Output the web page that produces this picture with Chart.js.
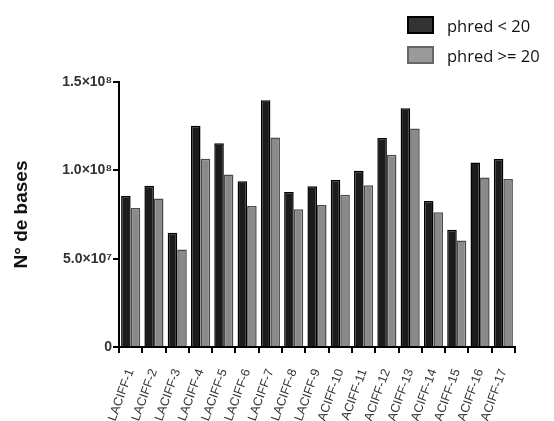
<!DOCTYPE html>
<html>
<head>
<meta charset="utf-8">
<script src="https://cdn.jsdelivr.net/npm/chart.js@4/dist/chart.umd.min.js"></script>
<style>
  html, body { margin: 0; padding: 0; background: #fff; }
  #wrap { position: relative; width: 554px; height: 421px; overflow: hidden; }
  #legend { position: absolute; left: 407px; top: 10px; font-family: 'Open Sans', sans-serif; font-size: 16.5px; color: #111; }
  .item { display: flex; align-items: center; height: 30px; }
  .box { width: 23px; height: 14px; margin-right: 13px; box-sizing: content-box; }
</style>
</head>
<body>
<div id="wrap">
  <canvas id="chart" width="554" height="421"></canvas>
  <div id="legend"></div>
</div>
<script>
const categories = ['LACIFF-1', 'LACIFF-2', 'LACIFF-3', 'LACIFF-4', 'LACIFF-5', 'LACIFF-6', 'LACIFF-7', 'LACIFF-8', 'LACIFF-9',
    'LACIFF-10', 'LACIFF-11', 'LACIFF-12', 'LACIFF-13', 'LACIFF-14', 'LACIFF-15', 'LACIFF-16', 'LACIFF-17'];
const seriesNames = ['phred < 20', 'phred >= 20'];
const lowQuality = [85.5e6, 91.3e6, 64.6e6, 125.2e6, 115.4e6, 93.8e6, 139.7e6, 87.7e6, 91.0e6,
    94.5e6, 99.8e6, 118.3e6, 135.2e6, 82.7e6, 66.3e6, 104.5e6, 106.4e6];
const highQuality = [78.7e6, 84.0e6, 55.2e6, 106.6e6, 97.6e6, 79.8e6, 118.6e6, 78.0e6, 80.4e6,
    86.2e6, 91.5e6, 108.8e6, 123.7e6, 76.3e6, 60.3e6, 96.0e6, 95.1e6];
const yTickLabels = ['0', '5.0×10⁷', '1.0×10⁸', '1.5×10⁸'];

const fills = ['#1c1c1c', '#8a8a8a'];
const borders = ['#000000', '#4a4a4a'];

// legend as html, built from the series names
const legendEl = document.getElementById('legend');
seriesNames.forEach((name, i) => {
    const item = document.createElement('div');
    item.className = 'item';
    const box = document.createElement('span');
    box.className = 'box';
    box.style.background = i === 0 ? '#333' : '#9a9a9a';
    box.style.border = '2px solid ' + (i === 0 ? '#000' : '#666');
    item.appendChild(box);
    item.appendChild(document.createTextNode(name));
    legendEl.appendChild(item);
});

new Chart(document.getElementById('chart'), {
    type: 'bar',
    data: {
        labels: categories,
        datasets: [lowQuality, highQuality].map((d, i) => ({
            label: seriesNames[i],
            data: d,
            backgroundColor: fills[i],
            borderColor: borders[i],
            borderWidth: 1.5,
            barPercentage: 1.0,
            categoryPercentage: 0.82,
        })),
    },
    options: {
        responsive: false,
        animation: false,
        layout: { padding: { left: 0, top: 82, right: 39, bottom: 0 } },
        plugins: { legend: { display: false }, tooltip: { enabled: false } },
        scales: {
            x: {
                afterFit: (s) => { s.height = 74; },
                border: { color: '#000', width: 2 },
                grid: { drawOnChartArea: false, drawTicks: true, tickLength: 6, color: '#000', lineWidth: 2 },
                ticks: {
                    color: '#333',
                    font: { family: 'Liberation Sans', size: 12.5 },
                    minRotation: 70,
                    maxRotation: 70,
                    autoSkip: false,
                    padding: 14,
                },
            },
            y: {
                min: 0,
                max: 1.5e8,
                afterFit: (s) => { s.width = 119; },
                border: { color: '#000', width: 2 },
                grid: { drawOnChartArea: false, drawTicks: true, tickLength: 6, color: '#000', lineWidth: 2 },
                ticks: {
                    stepSize: 5e7,
                    color: '#333',
                    font: { family: 'Liberation Sans', size: 14, weight: 'bold' },
                    padding: 1,
                    callback: (v) => yTickLabels[Math.round(v / 5e7)],
                },
                title: {
                    display: true,
                    text: 'N° de bases',
                    color: '#111',
                    font: { family: 'Liberation Sans', size: 19, weight: 'bold' },
                    padding: { top: 10, bottom: 0 },
                },
            },
        },
    },
});
</script>
</body>
</html>
